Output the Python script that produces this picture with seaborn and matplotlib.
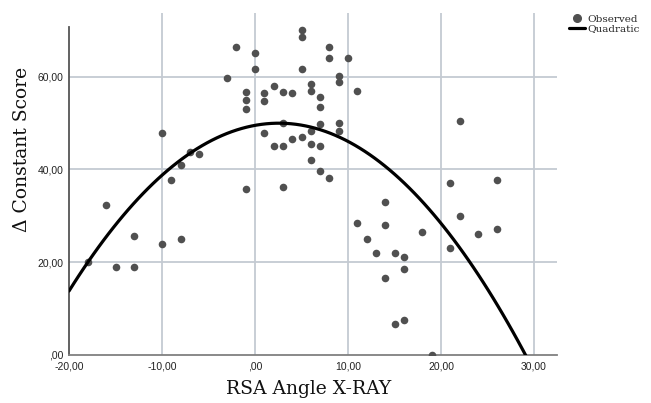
import numpy as np
import pandas as pd
import matplotlib
matplotlib.use("Agg")
import matplotlib.pyplot as plt
from matplotlib.lines import Line2D
import seaborn as sns

# values (x = RSA angle, y = delta Constant score)
angle = [-18, -16, -15, -13, -13, -10, -10, -9, -8, -8, -7, -6,
         -3, -2, -1, -1, -1, -1, 0, 0, 1, 1, 1, 2, 2,
         3, 3, 3, 3, 4, 4, 5, 5, 5, 5, 6, 6, 6, 6, 6,
         7, 7, 7, 7, 7, 8, 8, 8, 9, 9, 9, 9, 10, 11, 11,
         12, 13, 14, 14, 14, 15, 15, 16, 16, 16, 18, 19,
         21, 21, 22, 22, 24, 26, 26]
score = [20.1, 32.4, 19.0, 25.7, 19.0, 47.8, 24.0, 37.7, 41.0, 25.0, 43.8, 43.4,
         59.7, 66.5, 56.8, 55.0, 53.0, 35.8, 65.1, 61.7, 56.5, 54.7, 47.8, 58.1, 45.1,
         56.8, 50.1, 45.1, 36.1, 56.5, 46.5, 70.2, 68.5, 61.7, 47.1, 58.5, 57.0, 48.4, 45.4, 42.1,
         55.7, 53.4, 49.8, 45.1, 39.7, 66.5, 64.0, 38.1, 60.2, 58.8, 50.1, 48.4, 64.0, 57.0, 28.5,
         25.0, 22.0, 33.0, 28.0, 16.6, 22.0, 6.7, 21.0, 18.4, 7.5, 26.5, 0.0,
         37.0, 23.1, 50.5, 30.0, 26.0, 37.7, 27.1]

x_ticks = [-20, -10, 0, 10, 20, 30]
y_ticks = [0, 20, 40, 60]


def spss_fmt(v):
    # SPSS style: comma decimal, leading zero dropped for 0
    return ",00" if v == 0 else f"{v:.2f}".replace(".", ",")


df = pd.DataFrame({"angle": angle, "score": score})

sns.set_theme(style="white")
plt.rcParams["font.family"] = ["Liberation Sans", "DejaVu Sans"]

fig = plt.figure(figsize=(6.51, 4.03), dpi=100)
ax = fig.add_axes([0.106, 0.12, 0.75, 0.848])
ax.set_xlim(-20, 32.5)
ax.set_ylim(0, 73.8)

grid_col = "#c4cad2"
for v in x_ticks[1:]:
    ax.axvline(v, color=grid_col, lw=1.3, zorder=0)
for v in y_ticks[1:]:
    ax.axhline(v, color=grid_col, lw=1.3, zorder=0)

sns.regplot(data=df, x="angle", y="score", order=2, ci=None, truncate=False,
            ax=ax, scatter_kws=dict(s=30, color="#505050", linewidths=0, alpha=1, zorder=3),
            line_kws=dict(color="black", lw=2.3, zorder=4))

ax.set_xticks(x_ticks)
ax.set_yticks(y_ticks)
ax.set_xticklabels([spss_fmt(v) for v in x_ticks])
ax.set_yticklabels([spss_fmt(v) for v in y_ticks])
ax.tick_params(axis="both", length=0, labelsize=7.5, colors="#222222")
ax.tick_params(axis="x", pad=5)
ax.tick_params(axis="y", pad=4)

for s in ["top", "right"]:
    ax.spines[s].set_visible(False)
ax.spines["left"].set_color("#555555")
ax.spines["bottom"].set_color("#808080")
ax.spines["left"].set_linewidth(1.3)
ax.spines["bottom"].set_linewidth(1.3)
ax.spines["left"].set_bounds(0, 70.7)

ax.set_xlabel("RSA Angle X-RAY", family=["DejaVu Serif"], fontsize=13.5, color="#111111")
ax.set_ylabel("Δ Constant Score", family=["DejaVu Serif"], fontsize=13.5, color="#111111")
ax.xaxis.set_label_coords(0.49, -0.075)
ax.yaxis.set_label_coords(-0.078, 0.6)

handles = [Line2D([], [], ls="none", marker="o", color="#505050", markersize=5.5),
           Line2D([], [], color="black", lw=2.3)]
fig.legend(handles, ["Observed", "Quadratic"], loc="upper left", bbox_to_anchor=(0.868, 0.975),
           frameon=False, prop=dict(family="DejaVu Serif", size=7.5),
           handlelength=1.5, handletextpad=0.2, labelspacing=0.05, borderaxespad=0)

fig.savefig("out.png", dpi=100)
